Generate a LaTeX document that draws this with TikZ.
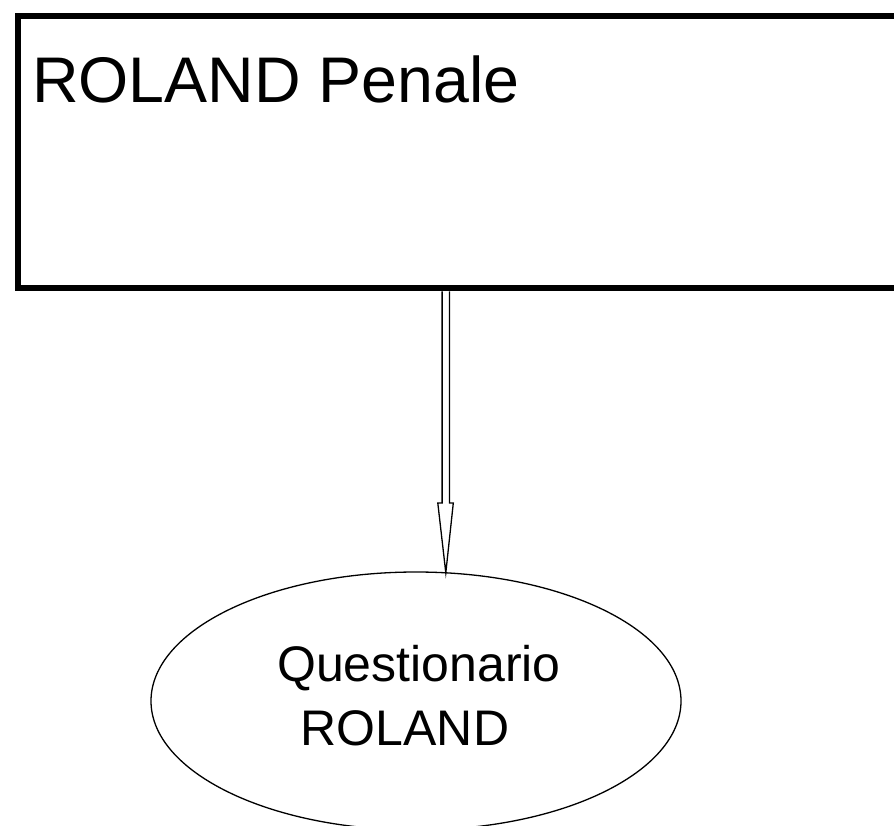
\documentclass[tikz,border=0pt]{standalone}
\usepackage{fontspec}
\setmainfont{Liberation Sans}
\usetikzlibrary{shapes.geometric,calc}
\tikzset{
  bigbox/.style={draw, line width=6pt, rectangle, inner sep=0pt, anchor=north west},
  boxlabel/.style={inner sep=0pt, anchor=base west, font=\fontsize{64.5}{76}\selectfont},
  oval/.style={draw, line width=1.3pt, ellipse, inner sep=0pt},
  ovallabel/.style={inner sep=0pt, align=center, font=\fontsize{50}{64}\selectfont},
  arrowline/.style={draw, line width=1.3pt, line join=miter}
}
\begin{document}
\begin{tikzpicture}[x=1pt,y=-1pt]
\useasboundingbox (0,0) rectangle (894,825);
\clip (0,0) rectangle (894,825);
\node[bigbox, minimum width=1000pt, minimum height=272.3pt] (box) at (15,13) {};
\node[boxlabel] (boxtext) at (32,102) {ROLAND Penale};
\node[oval, minimum width=530pt, minimum height=258pt] (el) at (416,701) {};
\node[ovallabel] (eltext) at (419,696) {Questionario\\ROLAND\hspace*{28pt}};
\coordinate (t) at (445.8,572.8);
\coordinate (s) at (box.south -| t);
\draw[arrowline] ($(s)+(-3.7,0)$) -- ($(s)+(-3.7,211.7)$) -- ($(s)+(-8,211.7)$) -- (t)
  -- ($(s)+(7.5,211.7)$) -- ($(s)+(3.7,211.7)$) -- ($(s)+(3.7,0)$);
\end{tikzpicture}
\end{document}
